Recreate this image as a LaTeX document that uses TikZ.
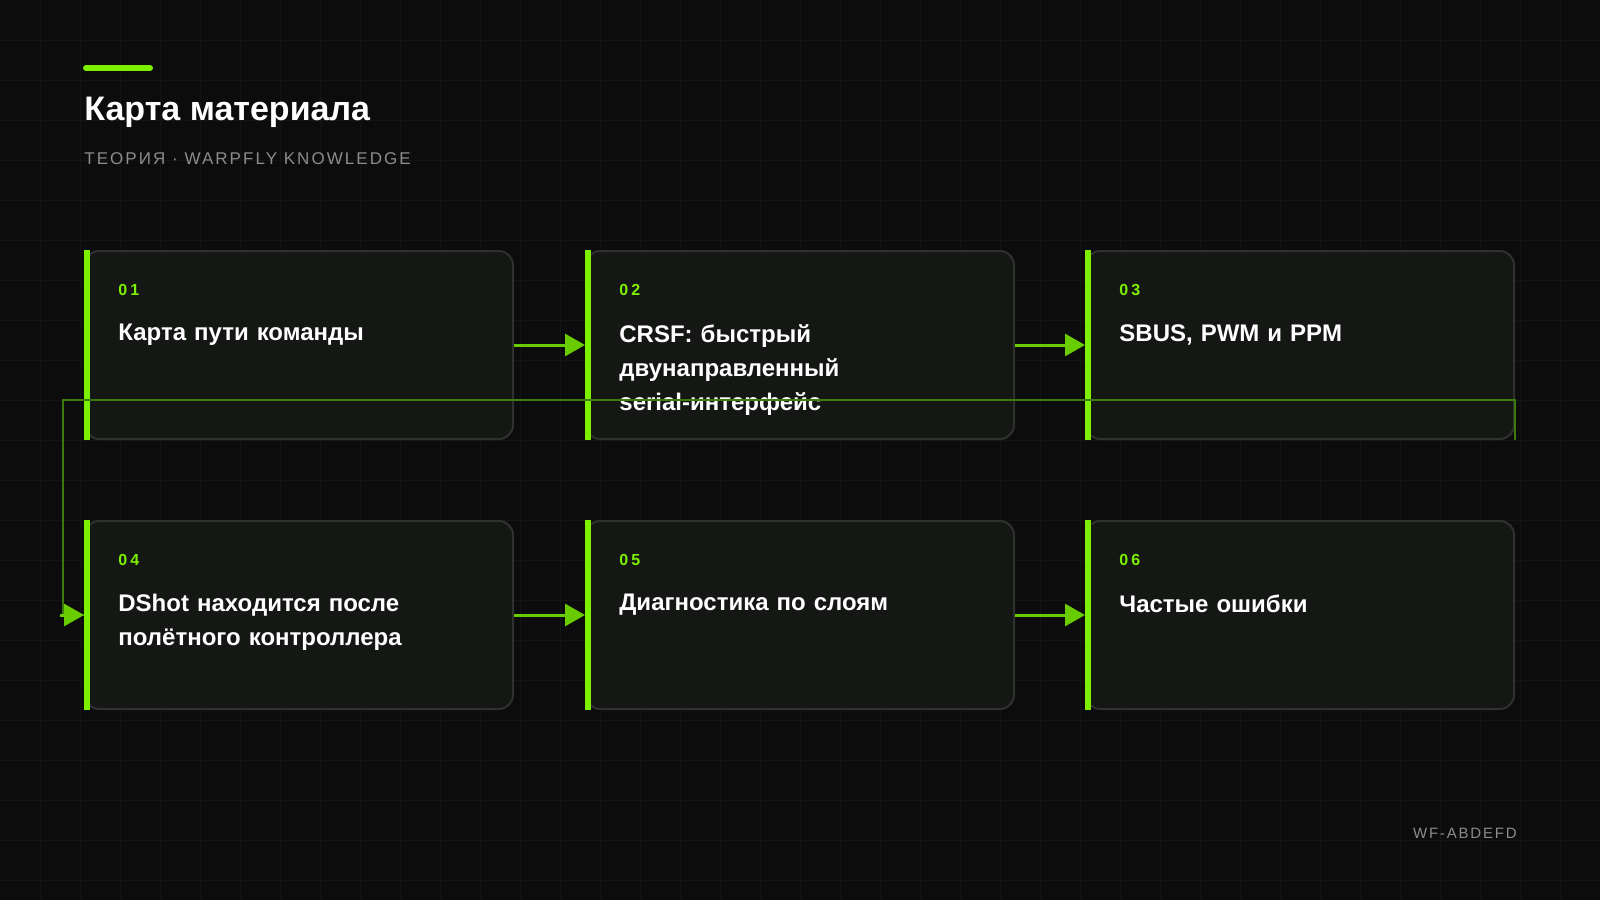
\documentclass[tikz,border=0pt]{standalone}
\usepackage{fontspec}
\setmainfont{Liberation Sans}
\usetikzlibrary{positioning,arrows.meta}
\definecolor{bg}{HTML}{0B0C0B}
\definecolor{gridc}{HTML}{131513}
\definecolor{cardfill}{HTML}{151715}
\definecolor{cardline}{HTML}{2E312E}
\definecolor{lime}{HTML}{7CF000}
\definecolor{darklime}{HTML}{3E7A0C}
\definecolor{subgray}{HTML}{8A8D8A}
\tikzset{
  card/.style={draw=cardline, line width=1pt, fill=cardfill, rounded corners=7pt,
    minimum width=214pt, minimum height=94pt, inner sep=0pt},
  bar/.style={line width=3pt, lime},
  stepno/.style={anchor=west, lime, font=\bfseries\fontsize{8}{9}\selectfont\addfontfeature{LetterSpace=20}, inner sep=0pt},
  steptxt/.style={anchor=north west, white, align=left, text width=190pt,
    font=\bfseries\fontsize{12}{17}\selectfont, inner sep=0pt},
  flow/.style={-{Triangle[length=10pt,width=11pt]}, line width=1.5pt, lime!85!black},
  route/.style={line width=1pt, darklime}
}
\begin{document}
\begin{tikzpicture}[x=0.5pt,y=-0.5pt]
  \fill[bg] (0,0) rectangle (1600,900);
  \useasboundingbox (0,0) rectangle (1600,900);
  \foreach \g in {40,80,...,1560} \draw[gridc, line width=0.4pt] (\g,0) -- (\g,900);
  \foreach \g in {40,80,...,880} \draw[gridc, line width=0.4pt] (0,\g) -- (1600,\g);

  % header
  \draw[lime, line width=3pt, line cap=round] (86,68) -- (150,68);
  \node[anchor=west, white, font=\bfseries\fontsize{17}{20}\selectfont, inner sep=0pt] (title) at (84,112) {Карта материала};
  \node[anchor=west, subgray, font=\fontsize{8.5}{10}\selectfont\addfontfeature{LetterSpace=12}, inner sep=0pt] (sub) at (84,159) {ТЕОРИЯ · WARPFLY KNOWLEDGE};

  % cards
  \foreach \n/\x/\y/\no/\txt in {
      b1/299/345/01/{Карта пути команды},
      b2/800/345/02/{CRSF: быстрый\\двунаправленный\\serial-интерфейс},
      b3/1300/345/03/{SBUS, PWM и PPM},
      b4/299/615/04/{DShot находится после\\полётного контроллера},
      b5/800/615/05/{Диагностика по слоям},
      b6/1300/615/06/{Частые ошибки}} {
    \node[card] (\n) at (\x,\y) {};
    \draw[bar] ([xshift=1.5pt]\n.north west) -- ([xshift=1.5pt]\n.south west);
    \node[stepno] (\n-no) at ([xshift=17pt,yshift=-20pt]\n.north west) {\no};
    \node[steptxt] (\n-txt) at ([xshift=17pt,yshift=-37pt]\n.north west) {\txt};
  }

  % connectors
  \draw[flow] (b1) -- (b2);
  \draw[flow] (b2) -- (b3);
  \draw[flow] (b4) -- (b5);
  \draw[flow] (b5) -- (b6);
  \coordinate (turn) at (63,480);
  \draw[route] (b3.south east) -- ++(0,-40) -| (turn) |- (b4.west);
  \draw[flow] ([xshift=-12pt]b4.west) -- (b4.west);

  \node[anchor=east, subgray, font=\fontsize{7.5}{9}\selectfont\addfontfeature{LetterSpace=12}, inner sep=0pt] (code) at (1517,833) {WF-ABDEFD};
\end{tikzpicture}
\end{document}
